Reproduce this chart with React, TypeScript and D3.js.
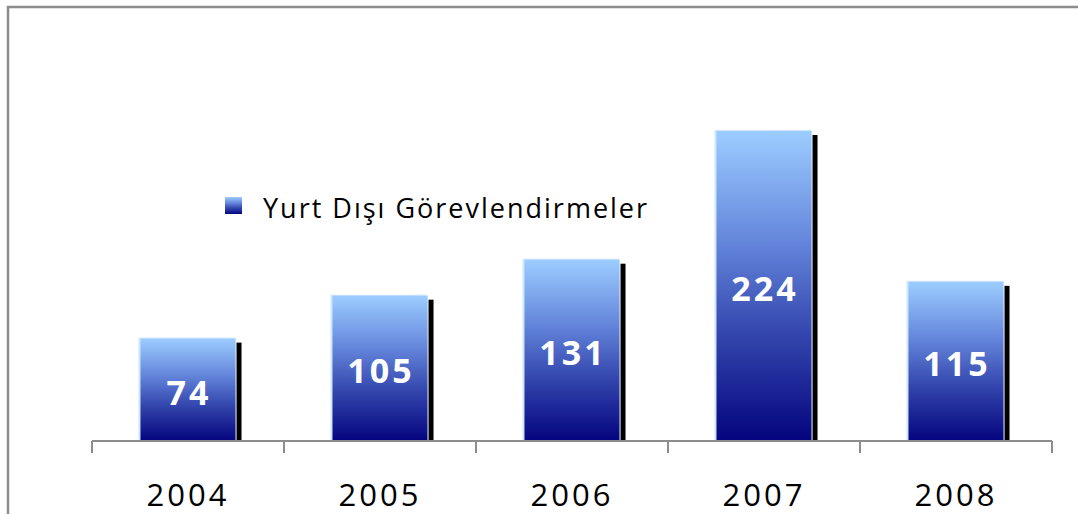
import { useRef, useEffect } from 'react';
import * as d3 from 'd3';

// chart data
const years = ['2004', '2005', '2006', '2007', '2008'];
const values = [74, 105, 131, 224, 115];
const seriesName = 'Yurt Dışı Görevlendirmeler';

const W = 1078;
const H = 514;

const App = () => {
  const svgRef = useRef<SVGSVGElement | null>(null);

  useEffect(() => {
    if (!svgRef.current) return;
    const svg = d3.select(svgRef.current);
    svg.selectAll('*').remove();

    const plotLeft = 92;
    const plotRight = 1052;
    const baseY = 441;

    const x = d3.scaleBand().domain(years).range([plotLeft, plotRight]).paddingInner(0).paddingOuter(0);
    const y = d3.scaleLinear().domain([0, 250]).range([baseY, baseY - 346]);

    const defs = svg.append('defs');
    const grad = defs.append('linearGradient')
      .attr('id', 'barGrad')
      .attr('x1', 0).attr('y1', 0).attr('x2', 0).attr('y2', 1);
    grad.append('stop').attr('offset', '0%').attr('stop-color', '#9ccdff');
    grad.append('stop').attr('offset', '35%').attr('stop-color', '#6587dc');
    grad.append('stop').attr('offset', '65%').attr('stop-color', '#3447ae');
    grad.append('stop').attr('offset', '100%').attr('stop-color', '#04047e');

    // outer frame
    svg.append('rect')
      .attr('x', 8).attr('y', 7)
      .attr('width', W + 10).attr('height', H + 10)
      .attr('fill', 'none')
      .attr('stroke', '#8c8c8c')
      .attr('stroke-width', 2.5);

    const bw = x.bandwidth() * 0.495;
    const g = svg.append('g');

    const bars = g.selectAll('g.bar')
      .data(values)
      .join('g')
      .attr('class', 'bar');

    // black shadow on the right side
    bars.append('rect')
      .attr('x', (d, i) => x(years[i])! + (x.bandwidth() - bw) / 2 + bw + 1)
      .attr('y', d => y(d) + 4)
      .attr('width', 5)
      .attr('height', d => baseY - y(d) - 4)
      .attr('fill', '#000');

    // light edge highlight
    bars.append('rect')
      .attr('x', (d, i) => x(years[i])! + (x.bandwidth() - bw) / 2 - 2)
      .attr('y', d => y(d) - 1)
      .attr('width', bw + 2)
      .attr('height', d => baseY - y(d) + 1)
      .attr('fill', '#cfe6ff');

    bars.append('rect')
      .attr('x', (d, i) => x(years[i])! + (x.bandwidth() - bw) / 2)
      .attr('y', d => y(d))
      .attr('width', bw)
      .attr('height', d => baseY - y(d))
      .attr('fill', 'url(#barGrad)');

    bars.append('text')
      .attr('x', (d, i) => x(years[i])! + x.bandwidth() / 2 + 1)
      .attr('y', d => (y(d) + baseY) / 2 + 3)
      .attr('dy', '0.35em')
      .attr('text-anchor', 'middle')
      .attr('fill', '#fff')
      .style('font-family', '"Open Sans", sans-serif')
      .style('font-weight', '700')
      .style('font-size', '34px')
      .style('letter-spacing', '3px')
      .text(d => d);

    // x axis
    const ax = svg.append('g');
    ax.append('line')
      .attr('x1', plotLeft).attr('x2', plotRight)
      .attr('y1', baseY).attr('y2', baseY)
      .attr('stroke', '#8c8c8c').attr('stroke-width', 2);
    const tickXs = years.map(yr => x(yr)!).concat([plotRight]);
    ax.selectAll('line.tick')
      .data(tickXs)
      .join('line')
      .attr('class', 'tick')
      .attr('x1', d => d).attr('x2', d => d)
      .attr('y1', baseY).attr('y2', baseY + 12)
      .attr('stroke', '#8c8c8c').attr('stroke-width', 2);
    ax.selectAll('text')
      .data(years)
      .join('text')
      .attr('x', d => x(d)! + x.bandwidth() / 2)
      .attr('y', 506)
      .attr('text-anchor', 'middle')
      .attr('fill', '#000')
      .style('font-family', '"Open Sans", sans-serif')
      .style('font-size', '31px')
      .style('letter-spacing', '3px')
      .text(d => d);

    // legend
    const lg = svg.append('g');
    lg.append('rect')
      .attr('x', 225).attr('y', 197)
      .attr('width', 17).attr('height', 17)
      .attr('fill', 'url(#barGrad)');
    lg.append('text')
      .attr('x', 263).attr('y', 209)
      .attr('dy', '0.35em')
      .attr('fill', '#000')
      .style('font-family', '"Open Sans", sans-serif')
      .style('font-size', '27px')
      .style('letter-spacing', '2px')
      .text(seriesName);
  }, []);

  return (
    <div style={{ position: 'fixed', left: 0, top: 0, width: W, height: H, background: '#fff' }}>
      <svg ref={svgRef} width={W} height={H} />
    </div>
  );
};

export default App;
